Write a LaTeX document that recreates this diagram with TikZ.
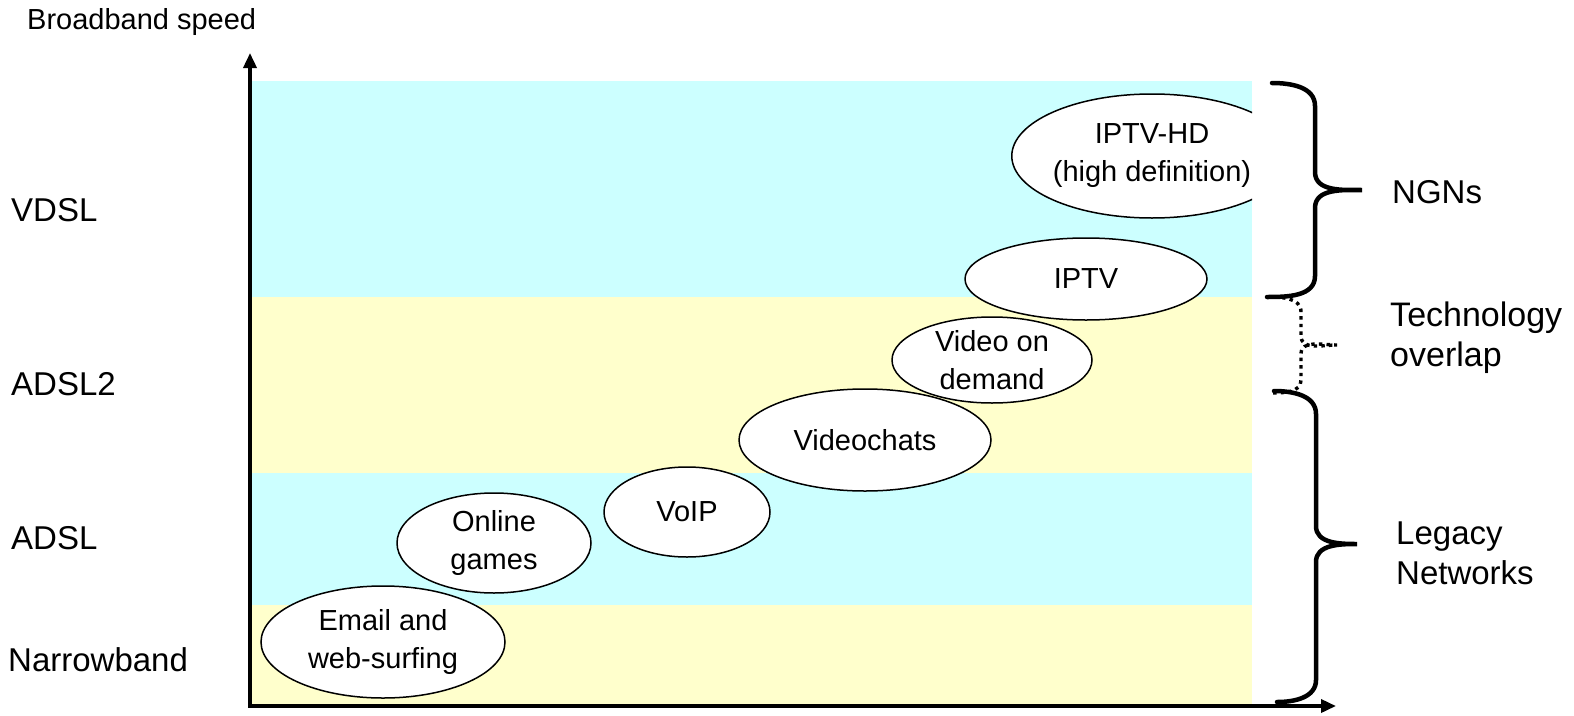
\documentclass[tikz,border=0pt]{standalone}
\usepackage{fontspec}
\setmainfont{Liberation Sans}
\usetikzlibrary{shapes.geometric,arrows.meta}
\definecolor{bandcyan}{HTML}{CCFFFF}
\definecolor{bandyellow}{HTML}{FFFFCC}
\tikzset{
  svc/.style={ellipse, draw=black, line width=1.5pt, fill=white, inner sep=0pt,
    align=center, font=\fontsize{29}{38}\selectfont},
  outerlbl/.style={anchor=base west, align=left, font=\fontsize{33}{40}\selectfont, inner sep=0pt},
  axisline/.style={line width=3.5pt, -{Triangle[length=15pt,width=13pt]}},
  bracel/.style={line width=4.5pt, line cap=round},
  dotbrace/.style={line width=3.4pt, dash pattern=on 3.4pt off 4.2pt},
}
\begin{document}
\begin{tikzpicture}[x=1pt,y=-1pt]
\useasboundingbox (0,0) rectangle (1574,715);
% bands
\fill[bandcyan] (252,81) rectangle (1252,297);
\fill[bandyellow] (252,297) rectangle (1252,473);
\fill[bandcyan] (252,473) rectangle (1252,605);
\fill[bandyellow] (252,605) rectangle (1252,706);
% axes
\coordinate (O) at (250,706);
\coordinate (ytop) at (250,53);
\coordinate (xstart) at (248,706);
\coordinate (xend) at (1336,706);
\draw[axisline] (O) -- (ytop);
\draw[axisline] (xstart) -- (xend);
% axis labels
\node[anchor=base west, inner sep=0pt, font=\fontsize{29}{34}\selectfont] (yl) at (27,29) {Broadband speed};
\node[outerlbl] (vdsl) at (11,221) {VDSL};
\node[outerlbl] (adsl2) at (11,395) {ADSL2};
\node[outerlbl] (adsl) at (11,549) {ADSL};
\node[outerlbl] (narrow) at (8,671) {Narrowband};
% services
\node[svc, minimum width=244pt, minimum height=112pt] (email) at (383,642) {Email and\\web-surfing};
\node[svc, minimum width=194pt, minimum height=100pt] (games) at (494,543) {Online\\games};
\node[svc, minimum width=166pt, minimum height=90pt] (voip) at (687,512) {VoIP};
\node[svc, minimum width=252pt, minimum height=102pt] (vchat) at (865,440) {Videochats};
\node[svc, minimum width=200pt, minimum height=86pt] (vod) at (992,360) {Video on\\demand};
\node[svc, minimum width=242pt, minimum height=82pt] (iptv) at (1086,279) {IPTV};
\begin{scope}
\clip (252,0) rectangle (1252,715);
\node[svc, minimum width=224pt, minimum height=124pt] (hd) at (1152,156) {IPTV-HD\\(high definition)};
\end{scope}
% braces
\draw[bracel] (1272,83) to[out=0,in=90] (1315,106) -- (1315,172)
  to[out=-90,in=180] (1362,190) to[out=180,in=90] (1315,208) -- (1315,276)
  to[out=-90,in=0] (1267,297);
\draw[dotbrace] (1267,297) to[out=0,in=90] (1301,312) -- (1301,336)
  to[out=-90,in=180] (1337,345) to[out=180,in=90] (1301,354) -- (1301,380)
  to[out=-90,in=0] (1272,393);
\draw[bracel] (1274,391) to[out=0,in=90] (1316,414) -- (1316,526)
  to[out=-90,in=180] (1357,544) to[out=180,in=90] (1316,562) -- (1316,680)
  to[out=-90,in=0] (1277,702);
% group labels (base = last line)
\node[outerlbl] (ngn) at (1392,203) {NGNs};
\node[outerlbl, font=\fontsize{34}{40}\selectfont] (tech) at (1390,366) {Technology\\overlap};
\node[outerlbl] (legacy) at (1396,584) {Legacy\\Networks};
\end{tikzpicture}
\end{document}
